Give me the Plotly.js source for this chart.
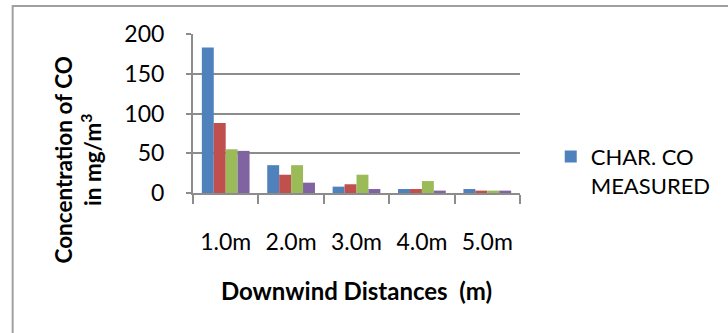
<!DOCTYPE html>
<html>
<head>
<meta charset="utf-8">
<script src="https://cdn.plot.ly/plotly-3.0.1.min.js"></script>
<style>
  html, body { margin: 0; padding: 0; background: #fff; }
  #chart { width: 728px; height: 333px; }
</style>
</head>
<body>
<div id="chart"></div>
<script>
// Downwind distances (categories)
const distances = ["1.0m", "2.0m", "3.0m", "4.0m", "5.0m"];

// CO concentration series (mg/m3)
const charCoMeasured = [183, 35, 8, 5, 5];
const series2 = [88, 23, 11, 5, 3];
const series3 = [55, 35, 23, 15, 3];
const series4 = [53, 13, 5, 3, 3];

const yTickValues = [0, 50, 100, 150, 200];

const FONT = "Lato, 'Open Sans', sans-serif";
const GRID = "#8c8c8c";

function barTrace(values, name, color, inLegend) {
  return {
    type: "bar",
    x: distances,
    y: values,
    name: name,
    showlegend: inLegend,
    marker: { color: color, line: { width: 0 } },
    hoverinfo: "x+y"
  };
}

const traces = [
  barTrace(charCoMeasured, "CHAR. CO<br>MEASURED", "#4F81BD", true),
  barTrace(series2, "Series 2", "#C0504D", false),
  barTrace(series3, "Series 3", "#9BBB59", false),
  barTrace(series4, "Series 4", "#8064A2", false)
];

const layout = {
  width: 728,
  height: 333,
  margin: { l: 193, r: 205, t: 34, b: 140 },
  paper_bgcolor: "#ffffff",
  plot_bgcolor: "#ffffff",
  font: { family: FONT, size: 22, color: "#000" },
  barmode: "group",
  bargap: 0.27,
  bargroupgap: 0,
  xaxis: {
    type: "category",
    tickson: "boundaries",
    ticks: "outside",
    ticklen: 9,
    tickwidth: 2,
    tickcolor: GRID,
    showline: true,
    linecolor: GRID,
    linewidth: 2,
    showgrid: false,
    ticklabelstandoff: 27,
    tickfont: { family: FONT, size: 23 },
    title: {
      text: "<b>Downwind Distances&nbsp;&nbsp;(m)</b>",
      font: { family: FONT, size: 24 },
      standoff: 30
    }
  },
  yaxis: {
    range: [0, 200],
    tickvals: yTickValues,
    ticks: "outside",
    ticklen: 5,
    tickwidth: 2,
    tickcolor: GRID,
    showline: true,
    linecolor: GRID,
    linewidth: 2,
    showgrid: true,
    gridcolor: GRID,
    gridwidth: 2,
    zeroline: false,
    ticklabelstandoff: 17,
    tickfont: { family: FONT, size: 23 }
  },
  legend: {
    x: 1.094,
    xanchor: "left",
    y: 0.36,
    yanchor: "top",
    valign: "top",
    bgcolor: "rgba(0,0,0,0)",
    font: { family: FONT, size: 22 }
  },
  annotations: [{
    text: "<b>Concentration of CO<br>in mg/m<sup>3</sup></b>",
    xref: "paper",
    yref: "paper",
    x: -0.351,
    y: 0.206,
    xanchor: "center",
    yanchor: "middle",
    textangle: -90,
    showarrow: false,
    font: { family: FONT, size: 22.5 }
  }],
  shapes: [{
    type: "rect",
    xref: "paper",
    yref: "paper",
    x0: -0.5515,
    x1: 1.7,
    y0: -1.1,
    y1: 1.1764,
    line: { color: "#a0a0a0", width: 2 },
    fillcolor: "rgba(0,0,0,0)",
    layer: "below"
  }]
};

Plotly.newPlot("chart", traces, layout, { staticPlot: true, displayModeBar: false });
</script>
</body>
</html>
